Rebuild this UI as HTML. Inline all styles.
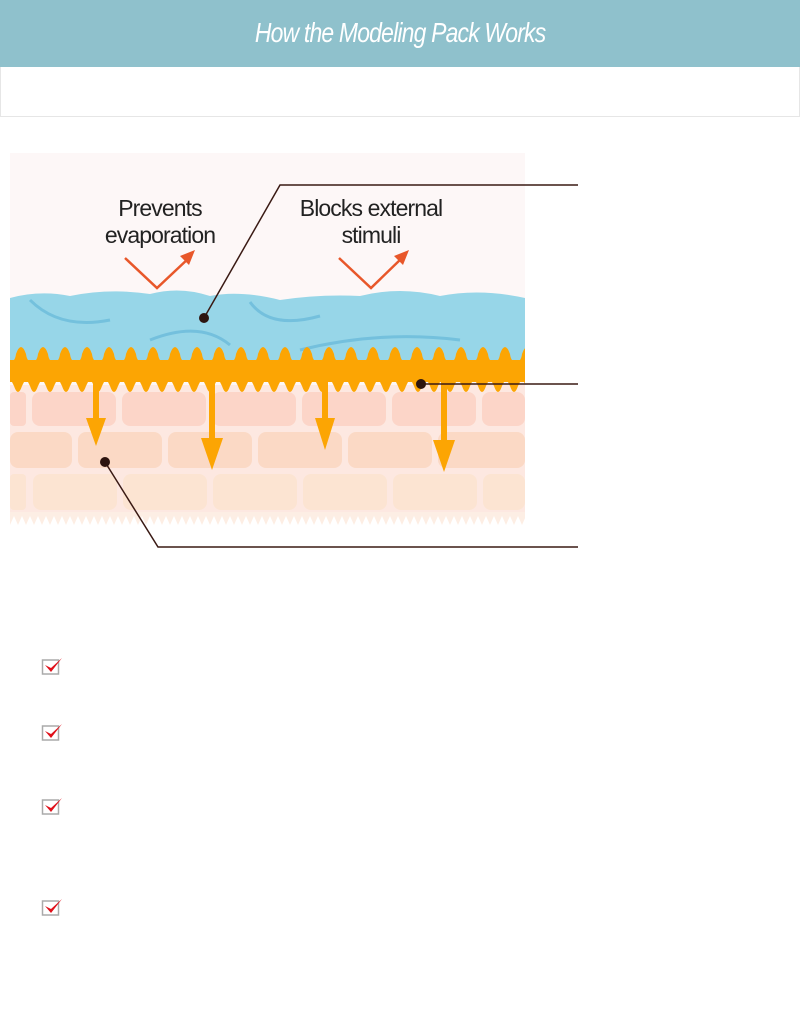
<!DOCTYPE html>
<html><head><meta charset="utf-8"><style>
body{margin:0;width:800px;height:1009px;background:#fff;position:relative;overflow:hidden;font-family:"Liberation Sans",sans-serif}
.hdr{position:absolute;left:0;top:0;width:800px;height:67px;background:#8fc1cc;color:#fff;text-align:center;font-family:"Liberation Sans",sans-serif;font-style:italic;font-weight:300;font-size:28px;line-height:66px;letter-spacing:-1px}
.box{position:absolute;left:0;top:67px;width:798px;height:49px;border:1px solid #e6e6e6;border-top:none}
.chk{position:absolute;left:41px;width:22px;height:20px}
</style></head><body>
<div class="hdr"><span style="display:inline-block;transform:scaleX(0.82)">How the Modeling Pack Works</span></div>
<div class="box"></div>
<svg width="800" height="600" style="position:absolute;left:0;top:0">
<defs>
<pattern id="bump" x="10" y="0" width="22" height="400" patternUnits="userSpaceOnUse">
<path d="M0 362 Q5 362 6 354 Q11 340 16 354 Q17 362 22 362 Z" fill="#fca503"/>
</pattern>
<pattern id="drip" x="10" y="0" width="16" height="400" patternUnits="userSpaceOnUse">
<path d="M0 378 L16 378 L12 386 Q8 398 4 386 Z" fill="#fca503"/>
</pattern>
<pattern id="teeth" x="10" y="0" width="8" height="600" patternUnits="userSpaceOnUse">
<path d="M0 525 L4 516 L8 525 Z" fill="#fff"/>
</pattern>
</defs>
<rect x="10" y="153" width="515" height="372" fill="#fdf7f7"/>
<rect x="10" y="385" width="515" height="140" fill="#fde8e1"/>
<g fill="#fcd5c8">
<rect x="32" y="392" width="84" height="34" rx="8"/><rect x="122" y="392" width="84" height="34" rx="8"/><rect x="212" y="392" width="84" height="34" rx="8"/><rect x="302" y="392" width="84" height="34" rx="8"/><rect x="392" y="392" width="84" height="34" rx="8"/><rect x="482" y="392" width="43" height="34" rx="8"/><rect x="10" y="392" width="16" height="34" rx="4"/>
</g>
<g fill="#fbd9c5">
<rect x="10" y="432" width="62" height="36" rx="8"/><rect x="78" y="432" width="84" height="36" rx="8"/><rect x="168" y="432" width="84" height="36" rx="8"/><rect x="258" y="432" width="84" height="36" rx="8"/><rect x="348" y="432" width="84" height="36" rx="8"/><rect x="438" y="432" width="87" height="36" rx="8"/>
</g>
<g fill="#fce4d2">
<rect x="10" y="474" width="16" height="36" rx="4"/><rect x="33" y="474" width="84" height="36" rx="8"/><rect x="123" y="474" width="84" height="36" rx="8"/><rect x="213" y="474" width="84" height="36" rx="8"/><rect x="303" y="474" width="84" height="36" rx="8"/><rect x="393" y="474" width="84" height="36" rx="8"/><rect x="483" y="474" width="42" height="36" rx="8"/>
</g>
<rect x="10" y="512" width="515" height="13" fill="#fdeee4"/>
<rect x="10" y="510" width="515" height="16" fill="url(#teeth)"/>
<path d="M10 298 Q40 290 70 296 Q110 288 150 294 Q180 286 210 296 Q240 290 280 300 Q320 294 360 296 Q400 286 440 296 Q480 288 525 298 L525 362 L10 362Z" fill="#97d6e8"/>
<g fill="none" stroke="#5eb3d6" stroke-width="3" opacity="0.6">
<path d="M30 300 Q60 330 110 320"/><path d="M250 302 Q270 330 320 316"/><path d="M150 340 Q200 320 230 345"/><path d="M300 350 Q380 330 460 340"/>
</g>
<rect x="10" y="360" width="515" height="22" fill="#fca503"/>
<rect x="10" y="330" width="515" height="34" fill="url(#bump)"/>
<rect x="10" y="375" width="515" height="25" fill="url(#drip)"/>
<g fill="#fca503">
<rect x="93" y="380" width="6" height="40"/><path d="M86 418 L106 418 L96 446Z"/>
<rect x="209" y="380" width="6" height="60"/><path d="M201 438 L223 438 L212 470Z"/>
<rect x="322" y="380" width="6" height="40"/><path d="M315 418 L335 418 L325 450Z"/>
<rect x="441" y="380" width="6" height="60"/><path d="M433 440 L455 440 L444 472Z"/>
</g>
<g stroke="#e8572a" stroke-width="2.5" fill="none">
<path d="M125 258 L157 288 L190 257"/><path d="M339 258 L371 288 L403 257"/>
</g>
<g fill="#e8572a"><path d="M195 250 L180 256 L189 265Z"/><path d="M409 250 L394 256 L403 265Z"/></g>
<g font-size="23" fill="#222" text-anchor="middle" letter-spacing="-0.9">
<text x="160" y="216">Prevents</text>
<text x="160" y="243">evaporation</text>
<text x="371" y="216">Blocks external</text>
<text x="371" y="243">stimuli</text>
</g>
<g stroke="#3a1a14" stroke-width="1.5" fill="none">
<path d="M204 318 L280 185 L578 185"/><path d="M421 384 L578 384"/><path d="M105 462 L158 547 L578 547"/>
</g>
<g fill="#2d1510"><circle cx="204" cy="318" r="5"/><circle cx="421" cy="384" r="5"/><circle cx="105" cy="462" r="5"/></g>
</svg>
<svg class="chk" style="top:656px" viewBox="0 0 22 20"><rect x="1.5" y="4" width="16" height="14" fill="#fff" stroke="#aaa" stroke-width="1.5"/><path d="M4 9 L10 16 L21 2 L10 12Z" fill="#e0101a"/></svg>
<svg class="chk" style="top:722px" viewBox="0 0 22 20"><rect x="1.5" y="4" width="16" height="14" fill="#fff" stroke="#aaa" stroke-width="1.5"/><path d="M4 9 L10 16 L21 2 L10 12Z" fill="#e0101a"/></svg>
<svg class="chk" style="top:796px" viewBox="0 0 22 20"><rect x="1.5" y="4" width="16" height="14" fill="#fff" stroke="#aaa" stroke-width="1.5"/><path d="M4 9 L10 16 L21 2 L10 12Z" fill="#e0101a"/></svg>
<svg class="chk" style="top:897px" viewBox="0 0 22 20"><rect x="1.5" y="4" width="16" height="14" fill="#fff" stroke="#aaa" stroke-width="1.5"/><path d="M4 9 L10 16 L21 2 L10 12Z" fill="#e0101a"/></svg>
</body></html>
